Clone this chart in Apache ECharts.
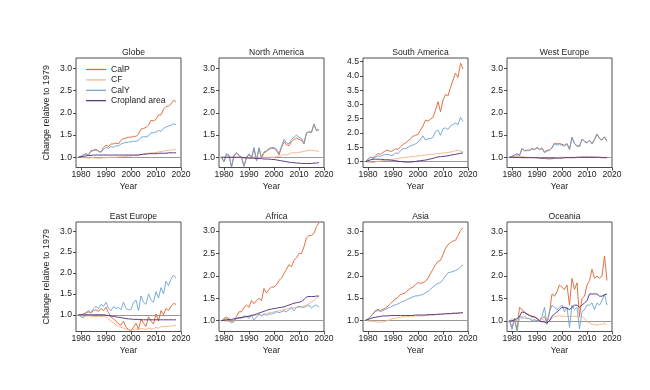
<!DOCTYPE html>
<html>
<head>
<meta charset="utf-8">
<script src="https://cdn.jsdelivr.net/npm/echarts@6/dist/echarts.min.js"></script>
<style>html,body{margin:0;padding:0;background:#fff}#c{width:650px;height:390px}</style>
</head>
<body>
<div id="c"></div>
<script>
const years = [1979,1980,1981,1982,1983,1984,1985,1986,1987,1988,
  1989,1990,1991,1992,1993,1994,1995,1996,1997,1998,
  1999,2000,2001,2002,2003,2004,2005,2006,2007,2008,
  2009,2010,2011,2012,2013,2014,2015,2016,2017,2018];
const regions = ['Globe','North America','South America','West Europe','East Europe','Africa','Asia','Oceania'];
const seriesNames = ['CalP','CF','CalY','Cropland area'];
const xTicks = [1980,1990,2000,2010,2020];
const yTicksStd = [1.0,1.5,2.0,2.5,3.0];
const yTicksSA = [1.0,1.5,2.0,2.5,3.0,3.5,4.0,4.5];
const yMins = [0.77,0.77,0.79,0.77,0.60,0.76,0.75,0.76];
const yMaxs = [3.23,3.23,4.63,3.23,3.22,3.20,3.21,3.21];

const globeCalP = [1.00,1.02,1.05,1.08,1.05,1.15,1.16,1.18,1.14,1.12, 1.22,1.27,1.24,1.30,1.30,1.32,1.30,1.38,1.42,1.43, 1.45,1.45,1.47,1.47,1.52,1.63,1.65,1.67,1.72,1.83, 1.82,1.85,1.95,1.95,2.08,2.14,2.15,2.20,2.28,2.25];
const globeCF   = [1.00,1.00,0.99,0.99,0.98,0.99,0.99,0.98,0.98,0.98, 0.99,0.99,1.00,1.00,1.00,1.00,1.01,1.01,1.02,1.02, 1.03,1.03,1.04,1.04,1.05,1.06,1.07,1.08,1.09,1.10, 1.10,1.11,1.12,1.13,1.14,1.15,1.16,1.16,1.17,1.17];
const globeCalY = [1.00,1.02,1.05,1.08,1.05,1.13,1.15,1.16,1.13,1.11, 1.18,1.22,1.20,1.24,1.22,1.26,1.25,1.30,1.32,1.33, 1.34,1.35,1.36,1.36,1.38,1.45,1.46,1.46,1.48,1.55, 1.55,1.57,1.60,1.58,1.65,1.68,1.70,1.72,1.75,1.73];
const globeCrop = [1.00,1.01,1.02,1.03,1.04,1.04,1.05,1.05,1.05,1.05, 1.05,1.05,1.05,1.05,1.05,1.05,1.05,1.05,1.05,1.05, 1.05,1.05,1.05,1.05,1.05,1.06,1.07,1.07,1.08,1.08, 1.08,1.08,1.09,1.09,1.09,1.09,1.10,1.10,1.10,1.10];

const naCalP = [1.00,0.90,1.07,1.04,0.78,1.04,1.09,1.04,0.99,0.80, 0.99,1.06,0.98,1.20,0.92,1.20,0.98,1.10,1.13,1.18, 1.20,1.20,1.15,1.05,1.22,1.35,1.28,1.26,1.35,1.40, 1.43,1.40,1.38,1.30,1.55,1.57,1.56,1.74,1.60,1.62];
const naCF   = [1.00,1.00,1.00,1.00,1.00,1.00,1.00,0.99,0.99,0.98, 0.98,0.99,1.00,1.00,1.00,1.00,1.00,1.00,1.00,1.00, 1.00,1.00,1.02,1.02,1.04,1.06,1.05,1.07,1.10,1.10, 1.10,1.11,1.12,1.13,1.15,1.15,1.16,1.15,1.14,1.13];
const naCalY = [1.00,0.90,1.08,1.05,0.78,1.05,1.10,1.05,1.00,0.80, 1.00,1.08,1.00,1.22,0.93,1.22,1.00,1.12,1.15,1.20, 1.22,1.22,1.18,1.08,1.25,1.40,1.32,1.30,1.40,1.45, 1.50,1.45,1.42,1.32,1.55,1.57,1.56,1.75,1.60,1.62];
const naCrop = [1.00,1.00,1.00,1.00,1.00,1.00,1.00,1.00,1.00,0.99, 0.99,0.98,0.98,0.98,0.97,0.97,0.97,0.96,0.96,0.96, 0.95,0.95,0.94,0.93,0.92,0.91,0.90,0.89,0.88,0.88, 0.87,0.87,0.86,0.86,0.86,0.86,0.86,0.87,0.87,0.88];

const saCalP = [1.00,1.08,1.15,1.12,1.20,1.28,1.25,1.32,1.38,1.40, 1.35,1.38,1.45,1.42,1.52,1.60,1.65,1.72,1.80,1.88, 1.92,1.95,2.10,2.25,2.45,2.42,2.48,2.55,2.80,3.10, 2.75,3.15,3.35,3.30,3.60,3.85,4.10,3.95,4.45,4.25];
const saCF   = [1.00,0.98,0.97,0.96,0.98,1.00,1.02,1.03,1.05,1.05, 1.06,1.08,1.10,1.10,1.12,1.13,1.15,1.15,1.17,1.18, 1.18,1.20,1.20,1.22,1.22,1.25,1.25,1.25,1.27,1.28, 1.28,1.30,1.30,1.32,1.33,1.35,1.38,1.40,1.36,1.34];
const saCalY = [1.00,1.08,1.15,1.12,1.15,1.20,1.18,1.22,1.25,1.25, 1.22,1.22,1.30,1.28,1.38,1.45,1.45,1.50,1.55,1.58, 1.62,1.68,1.78,1.90,1.75,1.80,1.80,1.85,2.05,2.10, 1.92,2.15,2.18,2.12,2.25,2.30,2.35,2.30,2.55,2.40];
const saCrop = [1.00,1.03,1.06,1.08,1.08,1.08,1.08,1.07,1.06,1.06, 1.05,1.04,1.03,1.01,1.00,0.99,0.98,0.98,0.98,0.99, 1.00,1.02,1.03,1.04,1.05,1.07,1.09,1.11,1.14,1.16, 1.17,1.18,1.19,1.20,1.22,1.24,1.25,1.27,1.29,1.30];

const weCalP = [1.00,1.02,1.05,1.08,1.04,1.19,1.15,1.16,1.16,1.20, 1.18,1.22,1.18,1.21,1.12,1.16,1.16,1.22,1.32,1.30, 1.31,1.29,1.27,1.31,1.18,1.45,1.31,1.26,1.25,1.41, 1.36,1.33,1.38,1.30,1.40,1.52,1.42,1.39,1.46,1.36];
const weCF   = [1.00,1.01,1.02,1.04,1.03,1.02,1.01,1.00,1.00,1.00, 0.99,0.99,0.98,0.98,0.97,0.96,0.95,0.96,0.98,0.99, 1.00,1.00,1.00,1.00,1.00,1.00,1.00,1.00,1.00,1.01, 1.01,1.01,1.01,1.01,1.01,1.00,1.00,1.00,1.00,1.00];
const weCalY = [1.00,1.02,1.05,1.08,1.04,1.20,1.14,1.15,1.15,1.19, 1.17,1.21,1.17,1.20,1.10,1.14,1.15,1.21,1.30,1.27, 1.29,1.27,1.25,1.30,1.17,1.45,1.30,1.25,1.24,1.40, 1.35,1.32,1.38,1.30,1.40,1.52,1.42,1.38,1.45,1.36];
const weCrop = [1.00,1.00,1.00,1.00,1.00,0.99,0.99,0.99,0.99,0.99, 0.99,0.99,0.98,0.98,0.98,0.98,0.98,0.98,0.98,0.98, 0.98,0.98,0.99,0.99,0.99,0.99,0.99,1.00,1.00,1.00, 1.00,1.00,1.00,1.00,1.00,1.00,1.00,0.99,0.99,0.99];

const eeCalP = [1.00,1.00,1.02,1.05,1.07,1.05,1.10,1.12,1.08,1.15, 1.10,1.18,1.05,0.95,0.90,0.85,0.78,0.75,0.85,0.70, 0.65,0.62,0.70,0.80,0.65,0.90,0.80,0.72,0.95,0.85, 0.78,1.02,0.85,1.10,1.00,1.15,1.10,1.20,1.27,1.25];
const eeCF   = [1.00,0.98,0.97,0.97,0.97,0.97,0.96,0.96,0.96,0.96, 0.95,0.95,0.90,0.85,0.80,0.76,0.72,0.70,0.68,0.66, 0.64,0.63,0.65,0.66,0.64,0.68,0.66,0.65,0.68,0.66, 0.67,0.70,0.68,0.71,0.72,0.72,0.73,0.73,0.74,0.74];
const eeCalY = [1.00,0.95,0.93,1.05,1.10,1.05,1.15,1.20,1.15,1.25, 1.20,1.30,1.15,1.10,1.20,1.15,1.18,1.12,1.30,1.15, 1.12,1.13,1.30,1.35,1.10,1.45,1.30,1.25,1.50,1.35, 1.30,1.55,1.40,1.65,1.50,1.80,1.70,1.85,1.95,1.88];
const eeCrop = [1.00,1.00,1.00,1.00,1.00,1.00,1.00,1.00,1.00,1.00, 1.00,0.99,0.98,0.97,0.96,0.95,0.94,0.93,0.92,0.91, 0.90,0.90,0.89,0.89,0.89,0.88,0.88,0.88,0.88,0.88, 0.88,0.88,0.88,0.88,0.88,0.88,0.88,0.88,0.88,0.88];

const afCalP = [1.00,1.05,1.08,1.05,0.98,1.00,1.10,1.20,1.20,1.30, 1.35,1.30,1.45,1.38,1.45,1.50,1.45,1.72,1.62,1.70, 1.75,1.75,1.80,1.90,1.95,2.05,2.15,2.25,2.20,2.35, 2.40,2.50,2.50,2.65,2.85,2.90,2.90,2.95,3.10,3.18];
const afCF   = [1.00,1.00,0.99,0.98,0.98,1.00,1.05,1.07,1.08,1.10, 1.10,1.10,1.12,1.12,1.13,1.14,1.12,1.15,1.15,1.18, 1.18,1.20,1.21,1.22,1.23,1.25,1.26,1.27,1.28,1.29, 1.30,1.30,1.31,1.33,1.35,1.38,1.42,1.45,1.50,1.55];
const afCalY = [1.00,1.02,1.05,1.00,0.95,0.98,1.05,1.08,1.05,1.10, 1.10,1.05,1.12,1.02,1.08,1.15,1.10,1.15,1.12,1.15, 1.15,1.17,1.20,1.18,1.20,1.22,1.20,1.25,1.30,1.22, 1.30,1.32,1.30,1.30,1.32,1.35,1.28,1.33,1.35,1.30];
const afCrop = [1.00,1.01,1.02,1.03,1.03,1.04,1.05,1.06,1.07,1.08, 1.09,1.10,1.12,1.13,1.15,1.17,1.19,1.21,1.23,1.25, 1.26,1.27,1.28,1.29,1.30,1.31,1.33,1.35,1.37,1.39, 1.40,1.41,1.43,1.47,1.53,1.54,1.54,1.54,1.55,1.55];

const asCalP = [1.00,1.03,1.08,1.15,1.22,1.25,1.22,1.25,1.28,1.32, 1.38,1.43,1.48,1.52,1.58,1.60,1.62,1.68,1.72,1.75, 1.80,1.85,1.83,1.85,1.88,1.95,2.05,2.15,2.25,2.32, 2.35,2.48,2.62,2.70,2.75,2.78,2.80,2.90,3.02,3.08];
const asCF   = [1.00,0.99,0.98,0.98,0.97,0.96,0.96,0.97,0.98,1.00, 1.02,1.04,1.05,1.06,1.07,1.08,1.08,1.09,1.09,1.10, 1.10,1.10,1.10,1.10,1.11,1.11,1.12,1.12,1.13,1.13, 1.14,1.14,1.15,1.15,1.15,1.16,1.16,1.17,1.17,1.18];
const asCalY = [1.00,1.03,1.08,1.15,1.20,1.22,1.20,1.22,1.25,1.28, 1.30,1.33,1.35,1.37,1.40,1.43,1.45,1.48,1.50,1.53, 1.55,1.55,1.57,1.58,1.62,1.65,1.70,1.75,1.80,1.83, 1.85,1.92,2.00,2.07,2.08,2.10,2.12,2.15,2.20,2.25];
const asCrop = [1.00,1.02,1.04,1.06,1.07,1.08,1.09,1.10,1.10,1.10, 1.11,1.11,1.11,1.11,1.11,1.11,1.11,1.11,1.11,1.11, 1.12,1.12,1.12,1.12,1.12,1.13,1.13,1.13,1.13,1.14, 1.14,1.14,1.15,1.15,1.15,1.16,1.16,1.16,1.17,1.17];

const ocCalP = [1.00,0.85,1.05,0.80,1.30,1.25,1.20,1.15,1.12,1.08, 1.10,1.05,1.00,1.05,1.10,0.95,1.20,1.60,1.55,1.65, 1.80,1.75,1.70,1.80,1.35,1.95,1.70,1.85,1.10,1.50, 1.55,1.80,1.90,2.15,1.95,2.00,1.95,2.00,2.45,1.90];
const ocCF   = [1.00,1.05,1.02,1.00,1.08,1.10,1.05,1.05,1.05,1.02, 1.02,1.00,1.00,1.05,1.00,0.95,1.00,1.05,1.10,1.10, 1.12,1.10,1.10,1.10,1.10,1.10,1.10,1.10,1.08,1.10, 1.05,0.98,0.95,0.92,0.92,0.90,0.92,0.92,0.95,0.90];
const ocCalY = [1.00,0.80,1.05,0.75,1.10,1.05,1.10,1.05,1.05,1.00, 1.02,1.00,1.00,1.10,1.30,0.92,1.20,1.35,1.30,1.25, 1.30,1.35,1.20,1.30,0.85,1.35,1.25,1.30,0.82,1.20, 1.25,1.35,1.35,1.40,1.25,1.40,1.35,1.45,1.60,1.35];
const ocCrop = [1.00,1.00,1.02,1.05,1.10,1.20,1.18,1.15,1.12,1.10, 1.08,1.05,1.00,0.98,0.97,0.95,1.00,1.10,1.15,1.20, 1.25,1.30,1.30,1.28,1.25,1.30,1.35,1.35,1.30,1.35, 1.40,1.45,1.60,1.60,1.60,1.60,1.55,1.55,1.58,1.60];

const panelData = [
  [globeCalP, globeCF, globeCalY, globeCrop],
  [naCalP, naCF, naCalY, naCrop],
  [saCalP, saCF, saCalY, saCrop],
  [weCalP, weCF, weCalY, weCrop],
  [eeCalP, eeCF, eeCalY, eeCrop],
  [afCalP, afCF, afCalY, afCrop],
  [asCalP, asCF, asCalY, asCrop],
  [ocCalP, ocCF, ocCalY, ocCrop]
];

const colors = ['#E0622F', '#F6B383', '#6AA3D0', '#4B2A7B'];
const colLefts = [76, 219, 363, 507];
const rowTops = [58, 222];
const W = 105, H = 109.5;
const FONT = 'Liberation Sans, Arial, Helvetica, sans-serif';
const txt = '#222';
const FS = 8.6;

const grids = [], xAxes = [], yAxes = [], titles = [], series = [];
for (let i = 0; i < 8; i++) {
  const r = Math.floor(i / 4), c = i % 4;
  const left = colLefts[c], top = rowTops[r];
  grids.push({left: left, top: top, width: W, height: H, show: true, borderColor: '#222', borderWidth: 0.8, backgroundColor: 'transparent', containLabel: false});
  xAxes.push({
    type: 'value', gridIndex: i, min: 1978, max: 2020,
    axisLine: {show: false}, splitLine: {show: false},
    axisTick: {show: true, customValues: xTicks, length: 3, lineStyle: {color: '#222', width: 0.8}},
    axisLabel: {customValues: xTicks, fontSize: FS, color: txt, fontFamily: FONT, margin: 3, formatter: v => String(Math.round(v))},
    name: 'Year', nameLocation: 'middle', nameGap: 15,
    nameTextStyle: {fontSize: FS, color: txt, fontFamily: FONT}
  });
  const yt = (i === 2) ? yTicksSA : yTicksStd;
  const ya = {
    type: 'value', gridIndex: i, min: yMins[i], max: yMaxs[i],
    axisLine: {show: false}, splitLine: {show: false},
    axisTick: {show: true, customValues: yt, length: 3, lineStyle: {color: '#222', width: 0.8}},
    axisLabel: {customValues: yt, fontSize: FS, color: txt, fontFamily: FONT, margin: 4, formatter: v => Number(v).toFixed(1)}
  };
  if (c === 0) {
    ya.name = 'Change relative to 1979';
    ya.nameLocation = 'middle';
    ya.nameGap = 25;
    ya.nameTextStyle = {fontSize: 9, color: txt, fontFamily: FONT};
  }
  yAxes.push(ya);
  titles.push({text: regions[i], left: left + W / 2, top: top - 15, textAlign: 'center',
    textStyle: {fontSize: FS, fontWeight: 'normal', color: txt, fontFamily: FONT}});
  for (let s = 0; s < 4; s++) {
    const vals = panelData[i][s];
    const ser = {
      name: seriesNames[s], type: 'line', xAxisIndex: i, yAxisIndex: i,
      data: years.map((y, k) => [y, vals[k]]),
      showSymbol: false, symbol: 'none', color: colors[s],
      lineStyle: {width: 0.9, color: colors[s]},
      emphasis: {disabled: true}, z: 3 + s
    };
    if (s === 0) {
      ser.markLine = {silent: true, symbol: 'none', label: {show: false}, animation: false,
        lineStyle: {color: '#999', width: 1, type: 'solid'}, data: [{yAxis: 1}], z: 2};
    }
    series.push(ser);
  }
}

const chart = echarts.init(document.getElementById('c'), null, {renderer: 'canvas'});
chart.setOption({
  animation: false,
  backgroundColor: '#fff',
  title: titles,
  grid: grids,
  xAxis: xAxes,
  yAxis: yAxes,
  legend: {
    data: seriesNames, orient: 'vertical', left: 81, top: 60,
    icon: 'rect', itemWidth: 20, itemHeight: 1.2, itemGap: 1.4,
    textStyle: {fontSize: FS, color: txt, fontFamily: FONT, lineHeight: 8.2},
    selectedMode: false
  },
  series: series
});
</script>
</body>
</html>
